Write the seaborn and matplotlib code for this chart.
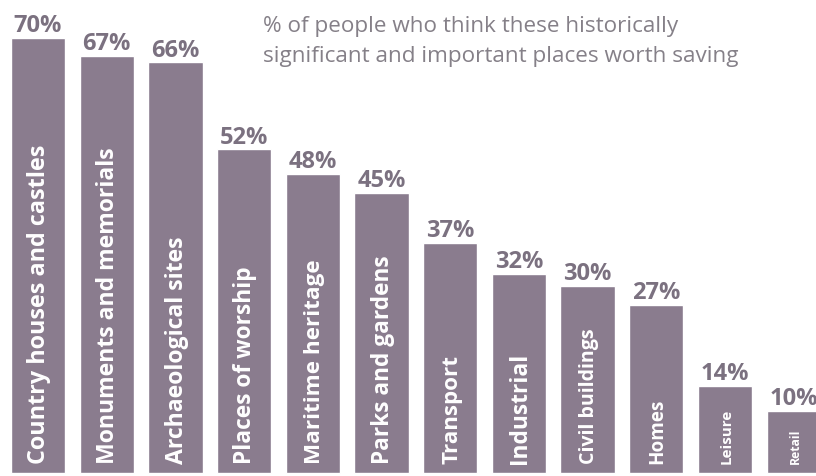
import matplotlib
matplotlib.use("Agg")
import matplotlib.pyplot as plt
import seaborn as sns
import pandas as pd

# Share of people who think each kind of historic place is worth saving
categories = [
    "Country houses and castles", "Monuments and memorials", "Archaeological sites",
    "Places of worship", "Maritime heritage", "Parks and gardens", "Transport",
    "Industrial", "Civil buildings", "Homes", "Leisure", "Retail",
]
values = [70, 67, 66, 52, 48, 45, 37, 32, 30, 27, 14, 10]
value_labels = [f"{v}%" for v in values]
title_lines = ["% of people who think these historically",
               "significant and important places worth saving"]

# Font size of the name written inside each bar (narrow bars get smaller type)
name_sizes = [16.8, 16.6, 16.6, 16.4, 16.2, 16.3, 16.1, 16.4, 14.1, 13.6, 10.9, 8.8]

BAR = "#8a7c8e"
VALUE_COLOR = "#7b7180"
TITLE_COLOR = "#858088"

sns.set_theme(style="white")
plt.rcParams["font.family"] = ["Open Sans", "DejaVu Sans"]

W, H = 816, 477
fig = plt.figure(figsize=(W / 100, H / 100), dpi=100)
ax = fig.add_axes([0, 0, 1, 1])

df = pd.DataFrame({"place": categories, "share": values})
sns.barplot(data=df, x="place", y="share", color=BAR, saturation=1,
            width=0.79, ax=ax)

ax.set_xlim(-0.553, 11.325)
ax.set_ylim(-0.52, 75.2 + 1.0)
ax.axis("off")

for i, (v, lab, name, fs) in enumerate(zip(values, value_labels, categories, name_sizes)):
    ax.text(i, v + 1.1, lab, ha="center", va="baseline", fontsize=17,
            fontweight="bold", color=VALUE_COLOR)
    ax.text(i + 0.02, 1.5, name, rotation=90, ha="center", va="bottom",
            fontsize=fs, fontweight="bold", color="white")

# Two-line heading, top right
for line, baseline_px in zip(title_lines, [32, 62]):
    fig.text(263 / W, 1 - baseline_px / H, line, ha="left", va="baseline",
             fontsize=16.2, color=TITLE_COLOR)

fig.savefig("out.png", dpi=100)
